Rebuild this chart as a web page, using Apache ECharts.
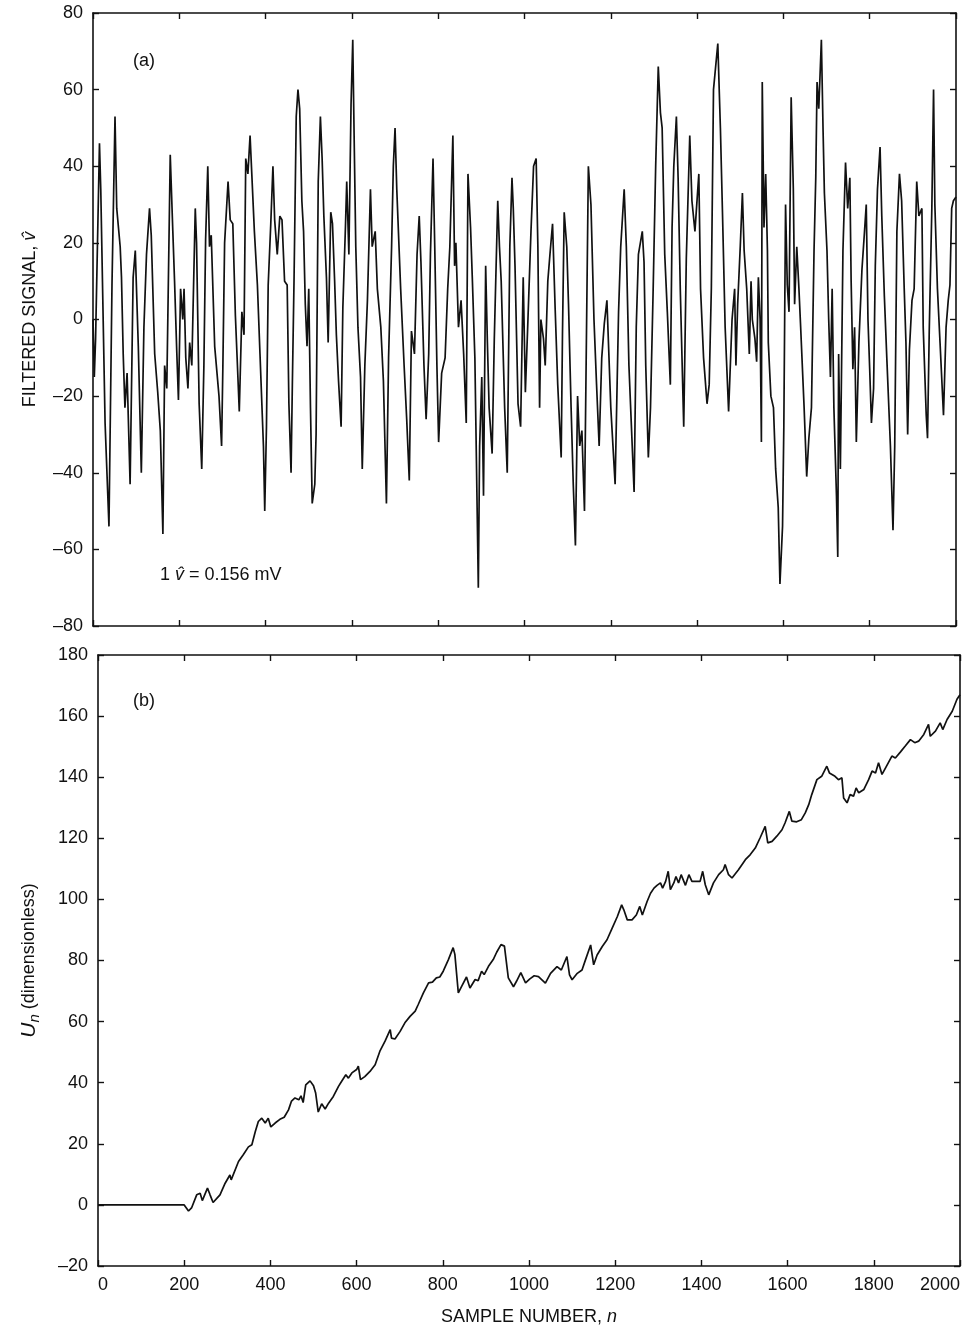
<!DOCTYPE html>
<html>
<head>
<meta charset="utf-8">
<script src="https://cdn.jsdelivr.net/npm/echarts@6/dist/echarts.min.js"></script>
<style>
  html, body { margin: 0; padding: 0; background: #fff; }
  #chart { width: 967px; height: 1334px; }
</style>
</head>
<body>
<div id="chart"></div>
<script>
// ---- Panel (a): filtered signal (sample number, value) ----
const sigN = [0,3,6,15,18,28,37,44,51,55,63,66,70,74,79,86,93,98,105,112,118,124,131,135,143,150,156,162,166,171,179,185,189,194,198,203,208,211,215,220,224,229,237,240,246,252,257,261,266,270,274,282,292,298,301,305,313,318,324,330,334,339,345,350,354,359,364,368,374,381,387,395,398,402,406,412,417,421,427,433,438,444,450,454,459,462,466,471,475,479,
  484,488,492,496,500,504,508,514,517,522,527,531,535,541,545,551,555,560,564,569,575,579,585,588,593,598,602,605,609,614,620,624,630,636,643,647,654,659,667,673,680,685,692,696,700,704,713,721,727,733,738,745,751,756,760,767,772,778,782,788,792,797,801,808,816,822,827,834,838,841,847,853,859,865,869,875,879,885,893,896,901,905,910,914,918,925,930,938,942,946,954,960,966,971,974,978,985,991,997,1002,
  1008,1015,1021,1027,1031,1035,1038,1044,1048,1054,1059,1065,1071,1077,1085,1088,1092,1098,1102,1108,1113,1118,1123,1128,1133,1139,1145,1148,1154,1161,1167,1173,1179,1185,1191,1200,1210,1218,1223,1231,1236,1242,1254,1259,1264,1273,1277,1281,1287,1292,1298,1304,1310,1315,1319,1325,1331,1338,1342,1346,1352,1356,1361,1369,1375,1383,1388,1395,1404,1408,1415,1423,1428,1433,1438,1448,1454,1459,1465,1473,1481,1487,
  1490,1494,1500,1505,1509,1515,1521,1525,1528,1534,1538,1542,1546,1549,1551,1555,1559,1563,1565,1571,1577,1582,1588,1592,1598,1601,1605,1609,1613,1618,1623,1626,1631,1636,1640,1648,1654,1659,1665,1671,1675,1678,1682,1688,1692,1695,1701,1705,1709,1713,1717,1723,1726,1728,1732,1738,1744,1749,1754,1757,1761,1765,1769,1775,1782,1788,1792,1796,1800,1804,1809,1813,1818,1824,1828,1834,1840,1848,1854,1858,1863,1869,1874,1880,1884,1888,1892,1898,1903,1909,1914,1921,1924,1931,1934,1938,1944,1948,1951,1957,1963,1971,1977,1982,1986,1990,1994,2000];
const sigV = [0,-15,-5,46,34,-27,-54,9,53,29,19,11,-9,-23,-14,-43,11,18,-7,-40,-2,17,29,22,-9,-19,-29,-56,-12,-18,43,23,10,-8,-21,8,0,8,-10,-18,-6,-12,29,20,-22,-39,-12,21,40,19,22,-7,-20,-33,-12,20,36,26,25,1,-10,-24,2,-4,42,38,48,38,23,9,-9,-33,-50,-28,9,25,40,26,17,27,26,10,9,-22,-40,-17,11,53,60,55,
  31,23,4,-7,8,-23,-48,-43,-30,36,53,42,27,11,-6,28,25,10,-4,-16,-28,3,24,36,17,56,73,49,19,-2,-15,-39,-12,5,34,19,23,8,-2,-16,-48,-10,19,40,50,34,8,-12,-26,-42,-3,-9,17,27,15,-12,-26,-9,17,42,19,-12,-32,-14,-10,8,19,48,14,20,-2,5,-9,-27,38,24,11,-10,-70,-33,-15,-46,14,-6,-23,-35,-5,31,19,10,-23,-40,19,37,29,14,-22,-28,11,-19,
  0,23,40,42,19,-23,0,-5,-12,10,17,25,3,-17,-36,-4,28,19,4,-23,-43,-59,-20,-33,-29,-50,10,40,30,0,-17,-33,-10,-1,5,-23,-43,2,19,34,19,-12,-45,-2,17,23,15,-12,-36,-23,7,40,66,54,50,17,2,-17,24,40,53,37,8,-28,16,48,31,23,38,8,-10,-22,-17,8,60,72,50,27,-2,-24,0,8,
  -12,4,19,33,18,8,-9,10,0,-5,-11,11,0,-32,62,24,38,18,-6,-20,-23,-39,-49,-69,-54,-28,30,9,2,58,34,4,19,8,-2,-23,-41,-31,-23,18,37,62,55,73,49,33,18,0,-15,8,-23,-46,-62,-9,-39,18,41,29,37,10,-13,-2,-32,-6,13,23,30,0,-13,-27,-18,14,34,45,27,6,-11,-33,-55,-33,23,38,31,8,-6,-30,-8,5,8,36,27,29,-2,-25,-31,-3,29,60,30,8,-6,-25,-2,5,9,29,31,32];

// ---- Panel (b): U_n ----
const uN = [0,200,210,217,229,237,242,254,260,267,283,295,306,309,326,337,349,357,365,372,380,388,395,401,411,422,432,442,449,457,466,471,476,482,492,500,505,511,519,527,535,546,558,565,575,581,589,600,604,609,619,631,643,654,666,678,681,689,701,712,724,736,743,755,767,776,785,793,801,813,824,828,836,844,855,863,875,882,890,896,906,917,925,935,943,952,964,971,981,992,1002,1012,
  1022,1038,1050,1065,1075,1088,1094,1100,1112,1123,1131,1143,1150,1158,1170,1181,1193,1205,1215,1220,1228,1239,1249,1257,1263,1274,1282,1290,1297,1305,1310,1317,1323,1328,1336,1341,1347,1353,1363,1371,1378,1390,1397,1403,1409,1417,1428,1440,1451,1455,1463,1471,1486,1502,1513,1525,1536,1548,1554,1564,1575,1587,1594,1604,1610,1621,1632,1641,1649,1656,1668,1679,1691,1697,1710,1718,1726,1730,1738,1745,1753,1759,1765,1777,1788,1796,1804,1811,1819,1827,1842,1850,1862,1873,1885,1895,1904,1916,1927,1931,1943,1954,1960,1970,1982,1993,2000];
const uV = [0,0,-2,-1,3.3,3.8,1.4,5.5,3.3,0.8,3.3,7.1,9.8,8.2,14.2,16.4,19,19.7,24,27.3,28.4,26.8,28.4,25.5,26.8,28,28.7,31.1,34,35,34.4,35.7,33.5,39.3,40.6,39,36.6,30.4,33.1,31.4,33.3,35.5,38.8,40.4,42.6,41.5,43.2,44.3,45.4,41,42,43.7,45.9,50.3,53.6,57.4,54.6,54.3,56.8,59.6,61.7,63.4,65.6,69.4,72.7,72.9,74.3,74.6,76.5,80.3,84.2,82,69.4,71.6,74.6,71,73.8,73.4,76.5,75.4,78.1,80.3,82.7,85.2,84.7,74.3,71.4,73.2,76,72.7,74,75,
  74.7,72.6,75.8,78,76.9,81.3,75.3,73.7,75.8,76.9,80.2,85.1,78.6,81.8,84.6,86.8,90.6,94.4,98.2,96.6,93.3,93.3,94.9,97.7,94.9,99.3,102,103.7,104.6,105.4,103.7,105.9,109.2,103.2,105.4,107.5,105.4,108.1,104.6,108.1,105.9,105.9,105.9,109.2,104.8,101.5,105.4,108.1,109.7,111.4,108.1,107,109.7,113,114.6,116.8,120.1,123.9,118.5,119,120.7,122.8,125,128.8,125.6,125.4,126.1,128.3,131,134.3,139.2,140.3,143.6,141.4,140.3,139.2,139.8,133.2,131.6,134.3,133.8,136.5,134.9,136,139.2,142,141.4,144.7,140.9,143,146.9,146.3,148.3,150.2,152.3,151.3,151.8,154,157.3,153.4,155.1,157.8,155.6,158.9,161.6,165.5,167];

// ---- axis ranges / labels ----
const xRange = [0, 2000, 200];
const yRangeA = [-80, 80, 20];
const yRangeB = [-20, 180, 20];
const xTitle = 'SAMPLE NUMBER, {i|n}';
const yTitleA = 'FILTERED SIGNAL, {i|v\u0302}';
const yTitleB = '{u|U}{s|n} (dimensionless)';
const noteA = '(a)';
const noteB = '(b)';
const noteScale = '1 {i|v\u0302} = 0.156 mV';

const FONT = 'Liberation Sans, Arial, Helvetica, sans-serif';
const INK = '#111';

function zip(a, b) { return a.map((x, i) => [x, b[i]]); }
function fmt(v) { return v < 0 ? '\u2013' + Math.abs(v) : String(v); }

function xAx(gridIndex, pos, showLabel, extra) {
  return Object.assign({
    type: 'value', gridIndex: gridIndex, position: pos,
    min: xRange[0], max: xRange[1], interval: xRange[2],
    axisLine: { show: true, onZero: false, lineStyle: { color: INK, width: 1.6 } },
    axisTick: { show: true, inside: true, length: 6, lineStyle: { color: INK, width: 1.4 } },
    axisLabel: { show: showLabel, color: INK, fontSize: 18, fontFamily: FONT, margin: 10, formatter: fmt,
      alignMinLabel: 'left', alignMaxLabel: 'right' },
    splitLine: { show: false }
  }, extra || {});
}
function yAx(gridIndex, pos, range, showLabel, extra) {
  return Object.assign({
    type: 'value', gridIndex: gridIndex, position: pos,
    min: range[0], max: range[1], interval: range[2],
    axisLine: { show: true, onZero: false, lineStyle: { color: INK, width: 1.6 } },
    axisTick: { show: true, inside: true, length: 6, lineStyle: { color: INK, width: 1.4 } },
    axisLabel: { show: showLabel, color: INK, fontSize: 18, fontFamily: FONT, margin: 10, formatter: fmt },
    splitLine: { show: false }
  }, extra || {});
}

const chart = echarts.init(document.getElementById('chart'), null, { renderer: 'canvas' });
chart.setOption({
  backgroundColor: '#fff',
  animation: false,
  grid: [
    { left: 93, top: 13, width: 863, height: 613, containLabel: false, outerBoundsMode: 'none' },
    { left: 98, top: 655, width: 862, height: 611, containLabel: false, outerBoundsMode: 'none' }
  ],
  xAxis: [
    xAx(0, 'bottom', false),
    xAx(0, 'top', false),
    xAx(1, 'bottom', true, {
      name: xTitle, nameLocation: 'middle', nameGap: 42,
      nameTextStyle: { color: INK, fontSize: 18, fontFamily: FONT,
        rich: { i: { fontStyle: 'italic', fontSize: 18, fontFamily: FONT, color: INK } } }
    }),
    xAx(1, 'top', false)
  ],
  yAxis: [
    yAx(0, 'left', yRangeA, true, {
      name: yTitleA, nameLocation: 'middle', nameGap: 54, nameRotate: 90,
      nameTextStyle: { color: INK, fontSize: 18, fontFamily: FONT,
        rich: { i: { fontStyle: 'italic', fontSize: 18, fontFamily: FONT, color: INK } } }
    }),
    yAx(0, 'right', yRangeA, false),
    yAx(1, 'left', yRangeB, true, {
      name: yTitleB, nameLocation: 'middle', nameGap: 56, nameRotate: 90,
      nameTextStyle: { color: INK, fontSize: 18, fontFamily: FONT,
        rich: {
          u: { fontStyle: 'italic', fontSize: 21, fontFamily: FONT, color: INK, verticalAlign: 'middle' },
          s: { fontStyle: 'italic', fontSize: 15, fontFamily: FONT, color: INK, verticalAlign: 'bottom', padding: [10, 0, 0, 0] }
        } }
    }),
    yAx(1, 'right', yRangeB, false)
  ],
  series: [
    { type: 'line', xAxisIndex: 0, yAxisIndex: 0, data: zip(sigN, sigV),
      showSymbol: false, symbol: 'none', lineStyle: { color: INK, width: 1.7 }, z: 3 },
    { type: 'line', xAxisIndex: 2, yAxisIndex: 2, data: zip(uN, uV),
      showSymbol: false, symbol: 'none', lineStyle: { color: INK, width: 1.7 }, z: 3 }
  ],
  graphic: [
    { type: 'text', left: 133, top: 52, style: { text: noteA, fontSize: 18, fontFamily: FONT, fill: INK } },
    { type: 'text', left: 160, top: 566, style: { text: noteScale, fontSize: 18, fontFamily: FONT, fill: INK,
      rich: { i: { fontStyle: 'italic', fontSize: 18, fontFamily: FONT, fill: INK } } } },
    { type: 'text', left: 133, top: 692, style: { text: noteB, fontSize: 18, fontFamily: FONT, fill: INK } }
  ]
});
</script>
</body>
</html>
